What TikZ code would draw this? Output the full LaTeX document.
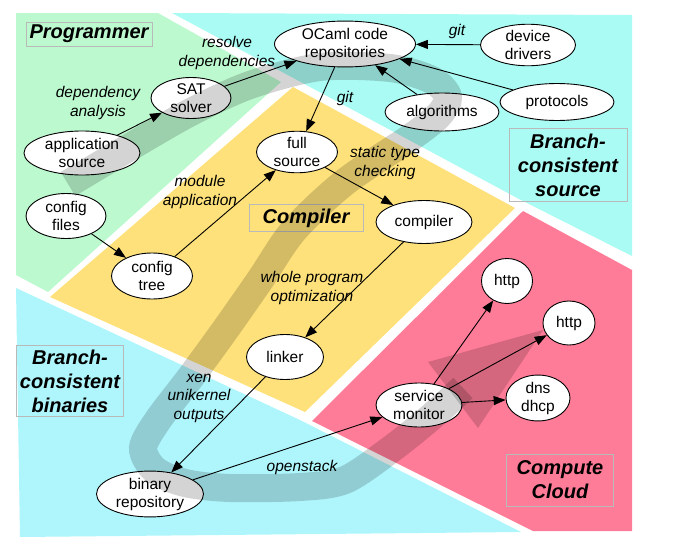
\documentclass[tikz,border=0pt]{standalone}
\usepackage{fontspec}
\setmainfont{Liberation Sans}
\usepackage{tikz}
\usetikzlibrary{shapes.geometric, arrows.meta}
\usepackage{xcolor}

\definecolor{progGreen}{RGB}{188,249,207}
\definecolor{srcCyan}{RGB}{170,251,244}
\definecolor{binCyan}{RGB}{174,246,252}
\definecolor{compYellow}{RGB}{254,225,122}
\definecolor{cloudPink}{RGB}{255,124,152}
\definecolor{boxGrey}{RGB}{185,185,185}

\begin{document}
\begin{tikzpicture}[x=1pt, y=-1pt,
    blob/.style={ellipse, draw, fill=white, line width=0.9pt, inner sep=0pt, align=center, font=\fontsize{15.5}{18}\selectfont},
    tag/.style={align=center, inner sep=0pt, font=\fontsize{15.5}{18.5}\selectfont\itshape},
    region/.style={draw=boxGrey, line width=0.8pt, align=center, inner sep=0pt, font=\fontsize{20}{24}\selectfont\bfseries\itshape},
    arrow/.style={-{Triangle[length=12pt, width=9pt]}, line width=0.9pt},
    flow/.style={line width=28pt, draw=black, draw opacity=0.17}
]
    \useasboundingbox (0,0) rectangle (694,549);

    \fill[progGreen] (16,13) -- (158,13) -- (281,82) -- (48,292) -- (16,275) -- cycle;
    \fill[srcCyan] (172,13) -- (632,15) -- (632,256) -- (519,199) -- cycle;
    \fill[compYellow] (293,87) -- (515,208) -- (305,412) -- (50,297) -- cycle;
    \fill[cloudPink] (523,211) -- (632,270) -- (632,531) -- (533,531) -- (312,421) -- cycle;
    \fill[binCyan] (16,288) -- (300,420) -- (521,532) -- (20,537) -- cycle;

    \node[region, minimum width=126, minimum height=24] (programmer) at (89,34) {Programmer};
    \node[region, minimum width=114, minimum height=27] (compilerbox) at (306,218) {Compiler};
    \node[region, minimum width=118, minimum height=73] (srcbox) at (568,165) {Branch-\\consistent\\source};
    \node[region, minimum width=107, minimum height=71] (binbox) at (70,381) {Branch-\\consistent\\binaries};
    \node[region, minimum width=107, minimum height=52] (cloudbox) at (560,480) {Compute\\Cloud};

    \node[blob, minimum width=141, minimum height=45] (repos) at (345,44) {OCaml code\\repositories};
    \node[blob, minimum width=95, minimum height=40] (drivers) at (528,45) {device\\drivers};
    \node[blob, minimum width=114, minimum height=37] (protocols) at (557,102) {protocols};
    \node[blob, minimum width=114, minimum height=38] (algorithms) at (442,112) {algorithms};
    \node[blob, minimum width=80, minimum height=41] (sat) at (191,98) {SAT\\solver};
    \node[blob, minimum width=116, minimum height=44] (appsrc) at (82,153) {application\\source};
    \node[blob, minimum width=80, minimum height=45] (cfgfiles) at (66,216) {config\\files};
    \node[blob, minimum width=81, minimum height=41] (fullsrc) at (297,152) {full\\source};
    \node[blob, minimum width=81, minimum height=46] (cfgtree) at (152,276) {config\\tree};
    \node[blob, minimum width=96, minimum height=43] (compiler) at (424,222) {compiler};
    \node[blob, minimum width=77, minimum height=45] (linker) at (285,357) {linker};
    \node[blob, minimum width=107, minimum height=44] (binrepo) at (150,494) {binary\\repository};
    \node[blob, minimum width=86, minimum height=44] (monitor) at (419,405) {service\\monitor};
    \node[blob, minimum width=64, minimum height=45] (dns) at (538,398) {dns\\dhcp};
    \node[blob, minimum width=51, minimum height=45] (http1) at (507,281) {http};
    \node[blob, minimum width=52, minimum height=44] (http2) at (569,323) {http};

    \draw[arrow] (drivers) -- (repos);
    \draw[arrow] (protocols) -- (repos);
    \draw[arrow] (algorithms) -- (repos);
    \draw[arrow] (sat) -- (repos);
    \draw[arrow] (appsrc) -- (sat);
    \draw[arrow] (repos) -- (fullsrc);
    \draw[arrow] (cfgfiles) -- (cfgtree);
    \draw[arrow] (cfgtree) -- (fullsrc);
    \draw[arrow] (fullsrc) -- (compiler);
    \draw[arrow] (compiler) -- (linker);
    \draw[arrow] (linker) -- (binrepo);
    \draw[arrow] (binrepo) -- (monitor);
    \draw[arrow] (monitor) -- (http1);
    \draw[arrow] (monitor) -- (http2);
    \draw[arrow] (monitor) -- (dns);

    \node[tag] (gitdrivers) at (457,31) {git};
    \node[tag] (resolve) at (227,53) {resolve\\dependencies};
    \node[tag] (depanalysis) at (98,103) {dependency\\analysis};
    \node[tag] (gitrepos) at (345,98) {git};
    \node[tag] (modapp) at (200,192) {module\\application};
    \node[tag] (typecheck) at (385,163) {static type\\checking};
    \node[tag] (wholeprog) at (312,288) {whole program\\optimization};
    \node[tag] (xen) at (199,398) {xen\\unikernel\\outputs};
    \node[tag] (openstack) at (302,467) {openstack};

    \draw[flow] plot[smooth] coordinates {(68,184) (130,147) (191,112) (250,85) (320,67) (390,68) (432,80) (448,97) (438,116) (410,138) (345,182) (294,230) (260,280) (225,330) (190,378) (158,420) (143,448) (155,470) (185,483) (230,488) (300,487) (345,480) (390,450) (430,418) (463,388)};
    \fill[black, fill opacity=0.17] (428,362) -- (543,330) -- (478,428) -- cycle;
\end{tikzpicture}
\end{document}
